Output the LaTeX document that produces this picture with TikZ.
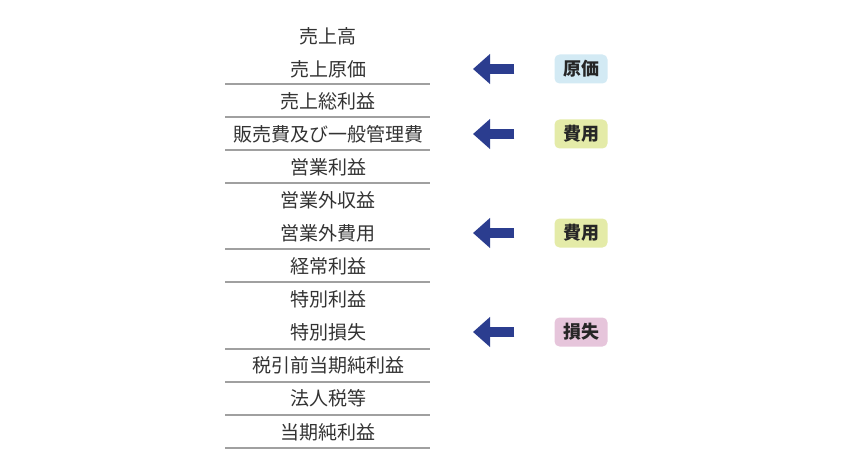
\documentclass[tikz,border=0pt]{standalone}
\usepackage{fontspec}
\setmainfont{Noto Sans CJK JP}
\usepackage{tikz}
\usetikzlibrary{arrows.meta,positioning,calc}

\definecolor{arrowblue}{HTML}{2B3D8F}
\definecolor{tagblue}{HTML}{D3EAF4}
\definecolor{tagyellow}{HTML}{E4EBA8}
\definecolor{tagpink}{HTML}{E6C5DB}
\definecolor{rowtext}{HTML}{333333}
\definecolor{rule}{HTML}{A0A0A0}

\begin{document}
\begin{tikzpicture}[x=1pt, y=-1pt, every node/.style={font=\fontsize{19}{22}\selectfont, text=rowtext},
  item/.style={inner sep=0pt},
  sep/.style={draw=rule, line width=1.1pt},
  tag/.style={rounded corners=5pt, minimum width=53pt, minimum height=29pt, inner sep=0pt, font=\fontsize{18}{22}\selectfont\bfseries, text=black!85},
  bigarrow/.style={draw=arrowblue, line width=10pt, -{Triangle[length=17pt,width=29pt]}}]
  \useasboundingbox (0,0) rectangle (860,468);

  % rows of the statement
  \node[item] (r1)  at (328,36)  {売上高};
  \node[item] (r2)  at (328,69)  {売上原価};
  \node[item] (r3)  at (328,101) {売上総利益};
  \node[item] (r4)  at (328,134) {販売費及び一般管理費};
  \node[item] (r5)  at (328,167) {営業利益};
  \node[item] (r6)  at (328,200) {営業外収益};
  \node[item] (r7)  at (328,233) {営業外費用};
  \node[item] (r8)  at (328,266) {経常利益};
  \node[item] (r9)  at (328,299) {特別利益};
  \node[item] (r10) at (328,332) {特別損失};
  \node[item] (r11) at (328,365) {税引前当期純利益};
  \node[item] (r12) at (328,398) {法人税等};
  \node[item] (r13) at (328,432) {当期純利益};

  % separating rules
  \foreach \y in {84,117,150,183,249,282,349,382,415,448}
    \draw[sep] (225,\y) -- (430,\y);

  % tags
  \node[tag, fill=tagblue]   (genka)  at (581,69)  {原価};
  \node[tag, fill=tagyellow] (hiyoA)  at (581,134) {費用};
  \node[tag, fill=tagyellow] (hiyoB)  at (581,233) {費用};
  \node[tag, fill=tagpink]   (sonsh)  at (581,332) {損失};

  \coordinate (tipA) at (473,69);
  \coordinate (tipB) at (473,134);
  \coordinate (tipC) at (473,233);
  \coordinate (tipD) at (473,332);

  \draw[bigarrow] ([xshift=-40pt]genka.west) -- (tipA);
  \draw[bigarrow] ([xshift=-40pt]hiyoA.west) -- (tipB);
  \draw[bigarrow] ([xshift=-40pt]hiyoB.west) -- (tipC);
  \draw[bigarrow] ([xshift=-40pt]sonsh.west) -- (tipD);
\end{tikzpicture}
\end{document}
